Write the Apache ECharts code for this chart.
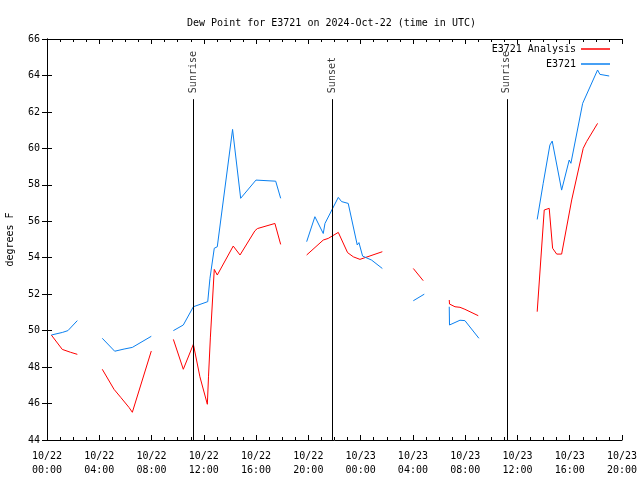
<!DOCTYPE html>
<html><head><meta charset="utf-8">
<script src="https://cdn.jsdelivr.net/npm/echarts@6/dist/echarts.min.js"></script>
<style>html,body{margin:0;padding:0;background:#fff}#c{width:640px;height:480px}</style>
</head><body><div id="c"></div>
<script>
// ---- data (x = hours since 2024-10-22 00:00 UTC) ----
const titleText = 'Dew Point for E3721 on 2024-Oct-22 (time in UTC)';
const yAxisTitle = 'degrees F';
const seriesNames = ['E3721 Analysis', 'E3721'];
const xTickLabels = ['10/22\n00:00','10/22\n04:00','10/22\n08:00','10/22\n12:00','10/22\n16:00','10/22\n20:00',
                     '10/23\n00:00','10/23\n04:00','10/23\n08:00','10/23\n12:00','10/23\n16:00','10/23\n20:00'];
const analysisData = [
  [0.33,49.76],[1.17,48.97],[1.81,48.81],[2.32,48.7], null,
  [4.23,47.88],[5.13,46.78],[5.64,46.34],[6.27,45.79],[6.53,45.52],[7.98,48.88], null,
  [9.67,49.52],[10.43,47.88],[11.2,49.25],[11.7,47.47],[12.27,45.96],[12.36,47.5],[12.5,49.6],[12.8,53.36],
  [13.03,53.05],[14.25,54.64],[14.77,54.15],[15.91,55.48],[16.1,55.6],[17.44,55.88],[17.88,54.73], null,
  [19.87,54.15],[21.14,54.97],[21.52,55.06],[22.29,55.39],[23.0,54.28],[23.44,54.05],[23.95,53.91],[25.66,54.33], null,
  [28.03,53.41],[28.79,52.74], null,
  [30.78,51.68],[30.8,51.46],[31.22,51.31],[31.6,51.28],[31.98,51.17],[33.0,50.82], null,
  [37.51,51.04],[38.05,56.62],[38.43,56.71],[38.69,54.52],[39.0,54.2],[39.38,54.2],[40.15,57.17],
  [41.03,60.0],[41.29,60.37],[42.13,61.37]
];
const obsData = [
  [0.33,49.76],[1.17,49.9],[1.6,50.0],[2.32,50.55], null,
  [4.23,49.58],[5.18,48.87],[5.9,48.99],[6.53,49.08],[7.98,49.69], null,
  [9.67,50.0],[10.43,50.31],[11.2,51.31],[12.3,51.59],[12.47,52.87],[12.8,54.52],[13.03,54.6],
  [14.2,61.04],[14.82,57.26],[15.99,58.26],[16.1,58.17],[17.5,58.2],[17.88,57.26], null,
  [19.87,54.88],[20.5,56.25],[21.14,55.33],[21.27,55.88],[22.29,57.31],[22.54,57.08],[23.05,56.98],
  [23.74,54.7],[23.87,54.83],[24.15,54.09],[24.84,53.87],[25.66,53.41], null,
  [28.03,51.64],[28.87,52.0], null,
  [30.78,51.31],[30.8,50.31],[31.6,50.57],[31.98,50.55],[33.05,49.58], null,
  [37.51,56.1],[37.97,58.08],[38.48,60.18],[38.66,60.4],[39.38,57.71],[39.96,59.36],[40.09,59.18],
  [40.99,62.47],[41.1,62.4],[42.13,64.3],[42.31,64.06],[43.02,63.97]
];
const eventTimes = [11.19, 21.83, 35.19];
const eventNames = ['Sunrise', 'Sunset', 'Sunrise'];

// ---- chart ----
const FONT = 'DejaVu Sans Mono';
const X_MIN = 0, X_MAX = 44, Y_MIN = 44, Y_MAX = 66;
const EVENT_TOP = 62.7;
const chart = echarts.init(document.getElementById('c'), null, {renderer: 'canvas'});

const baseAxisLine = {show: true, lineStyle: {color: '#000', width: 1}};
function xAx(pos, labels) {
  return {
    type: 'value', position: pos, min: X_MIN, max: X_MAX, interval: 4,
    axisLine: baseAxisLine,
    axisTick: {show: true, inside: true, length: 5, lineStyle: {color: '#000'}},
    minorTick: {show: true, splitNumber: 4, length: 3, lineStyle: {color: '#000'}},
    splitLine: {show: false},
    axisLabel: {show: labels, margin: 9, color: '#000', fontFamily: FONT, fontSize: 10, lineHeight: 14,
      formatter: v => xTickLabels[Math.round(v / 4)]}
  };
}
function yAx(pos, labels) {
  return {
    type: 'value', position: pos, min: Y_MIN, max: Y_MAX, interval: 2,
    name: labels ? yAxisTitle : '', nameLocation: 'middle', nameGap: 32, nameRotate: 90,
    nameTextStyle: {color: '#000', fontFamily: FONT, fontSize: 10},
    axisLine: baseAxisLine,
    axisTick: {show: true, inside: true, length: 5, lineStyle: {color: '#000'}},
    splitLine: {show: false},
    axisLabel: {show: labels, margin: 7, color: '#000', fontFamily: FONT, fontSize: 10}
  };
}

const option = {
  animation: false,
  backgroundColor: '#fff',
  title: {text: titleText, left: 182, top: 13,
    textStyle: {color: '#000', fontFamily: FONT, fontSize: 10, fontWeight: 'normal'}},
  legend: [
    {data: [seriesNames[0]], right: 25, top: 39, align: 'right', icon: 'rect', itemWidth: 29, itemHeight: 1.5,
     textStyle: {color: '#000', fontFamily: FONT, fontSize: 10}},
    {data: [seriesNames[1]], right: 25, top: 54, align: 'right', icon: 'rect', itemWidth: 29, itemHeight: 1.5,
     textStyle: {color: '#000', fontFamily: FONT, fontSize: 10}}
  ],
  grid: {left: 47, right: 18, top: 39, bottom: 40, containLabel: false, outerBoundsMode: 'none'},
  xAxis: [xAx('bottom', true), xAx('top', false)],
  yAxis: [yAx('left', true), yAx('right', false)],
  series: [
    {name: seriesNames[0], type: 'line', data: analysisData, showSymbol: false, connectNulls: false,
     color: '#ff0000', lineStyle: {width: 1, color: '#ff0000'}, z: 3},
    {name: seriesNames[1], type: 'line', data: obsData, showSymbol: false, connectNulls: false,
     color: '#0a80f0', lineStyle: {width: 1, color: '#0a80f0'}, z: 3},
    {name: 'events', type: 'scatter', symbolSize: 0, silent: true, z: 4,
     data: eventTimes.map((t, i) => ({value: [t, EVENT_TOP], name: eventNames[i]})),
     label: {show: true, formatter: p => p.name, position: 'top', distance: 6, rotate: 90,
       align: 'left', verticalAlign: 'middle', color: '#000', fontFamily: FONT, fontSize: 10},
     markLine: {silent: true, symbol: 'none', animation: false,
       lineStyle: {color: '#000', width: 1, type: 'solid'}, label: {show: false},
       data: eventTimes.map(t => [{coord: [t, Y_MIN]}, {coord: [t, EVENT_TOP]}])}
    }
  ]
};
chart.setOption(option);
</script></body></html>
